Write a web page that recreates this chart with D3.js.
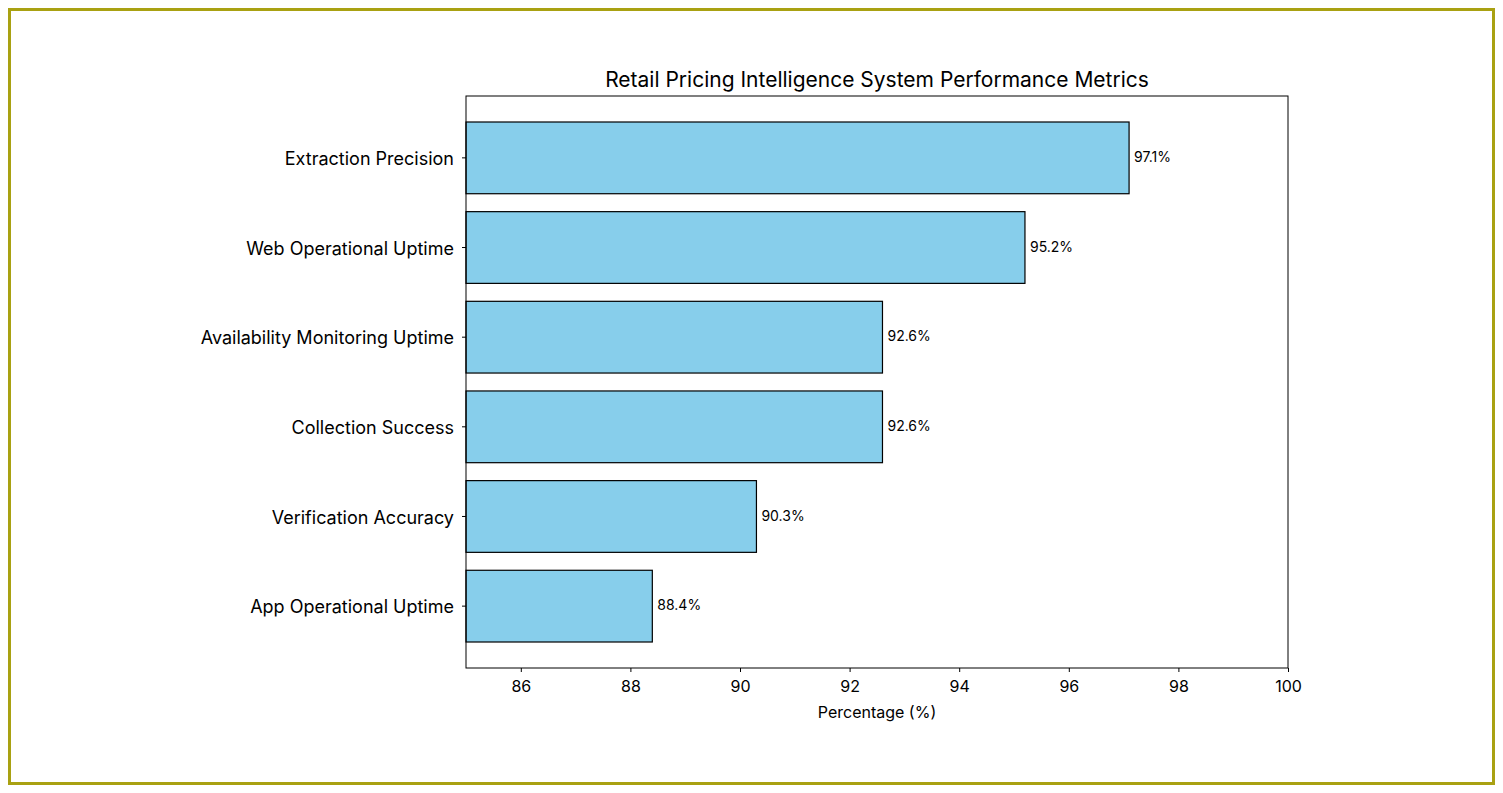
<!DOCTYPE html>
<html>
<head>
<meta charset="utf-8">
<script src="https://cdn.jsdelivr.net/npm/d3@7"></script>
<style>
  body { margin: 0; background: #fff; }
  svg { display: block; }
  svg text { font-family: Inter, "Open Sans", sans-serif; }
</style>
</head>
<body>
<div id="chart"></div>
<script>
// chart data
const categories = ["Extraction Precision", "Web Operational Uptime", "Availability Monitoring Uptime",
                    "Collection Success", "Verification Accuracy", "App Operational Uptime"];
const values = [97.1, 95.2, 92.6, 92.6, 90.3, 88.4];
const xTicks = [86, 88, 90, 92, 94, 96, 98, 100];

const width = 1503, height = 793;
const margin = {left: 466, right: 1503 - 1288, top: 96, bottom: 793 - 668};

const svg = d3.select("#chart").append("svg")
  .attr("width", width)
  .attr("height", height);

// outer frame
svg.append("rect")
  .attr("x", 9.5).attr("y", 9.5)
  .attr("width", width - 19).attr("height", height - 19)
  .attr("fill", "none")
  .attr("stroke", "#a9a112")
  .attr("stroke-width", 3);

const xScale = d3.scaleLinear().domain([85, 100]).range([margin.left, width - margin.right]);
const yScale = d3.scaleBand().domain(categories)
  .range([margin.top, height - margin.bottom])
  .paddingInner(0.2)
  .paddingOuter(0.29);

// bars
svg.selectAll("rect.bar")
  .data(values)
  .enter()
  .append("rect")
  .attr("class", "bar")
  .attr("x", xScale(85))
  .attr("y", (d, i) => yScale(categories[i]))
  .attr("width", d => xScale(d) - xScale(85))
  .attr("height", yScale.bandwidth())
  .attr("fill", "#87ceeb")
  .attr("stroke", "#000")
  .attr("stroke-width", 1.2);

// value labels
svg.selectAll("text.val")
  .data(values)
  .enter()
  .append("text")
  .attr("class", "val")
  .attr("x", d => xScale(d) + 5)
  .attr("y", (d, i) => yScale(categories[i]) + yScale.bandwidth() / 2)
  .attr("dy", "0.3em")
  .style("font-size", "14px")
  .attr("fill", "#000")
  .text(d => d.toFixed(1) + "%");

// x axis
const xAxis = d3.axisBottom(xScale).tickValues(xTicks).tickFormat(d3.format("d")).tickSize(4).tickPadding(9);
const gx = svg.append("g")
  .attr("class", "x-axis")
  .attr("transform", `translate(0, ${height - margin.bottom})`)
  .call(xAxis);
gx.select(".domain").remove();
gx.selectAll("text").style("font-size", "16px").attr("fill", "#000");

// y axis
const yAxis = d3.axisLeft(yScale).tickSize(4).tickPadding(8);
const gy = svg.append("g")
  .attr("class", "y-axis")
  .attr("transform", `translate(${margin.left}, 0)`)
  .call(yAxis);
gy.select(".domain").remove();
gy.selectAll("text").style("font-size", "18px").attr("dy", "0.4em").attr("fill", "#000");

// plot frame
svg.append("rect")
  .attr("x", margin.left).attr("y", margin.top)
  .attr("width", width - margin.left - margin.right)
  .attr("height", height - margin.top - margin.bottom)
  .attr("fill", "none")
  .attr("stroke", "#000")
  .attr("stroke-width", 1);

// title
svg.append("text")
  .attr("x", (margin.left + width - margin.right) / 2)
  .attr("y", 87)
  .attr("text-anchor", "middle")
  .style("font-size", "21px")
  .text("Retail Pricing Intelligence System Performance Metrics");

// x label
svg.append("text")
  .attr("x", (margin.left + width - margin.right) / 2)
  .attr("y", 718)
  .attr("text-anchor", "middle")
  .style("font-size", "16px")
  .text("Percentage (%)");
</script>
</body>
</html>
